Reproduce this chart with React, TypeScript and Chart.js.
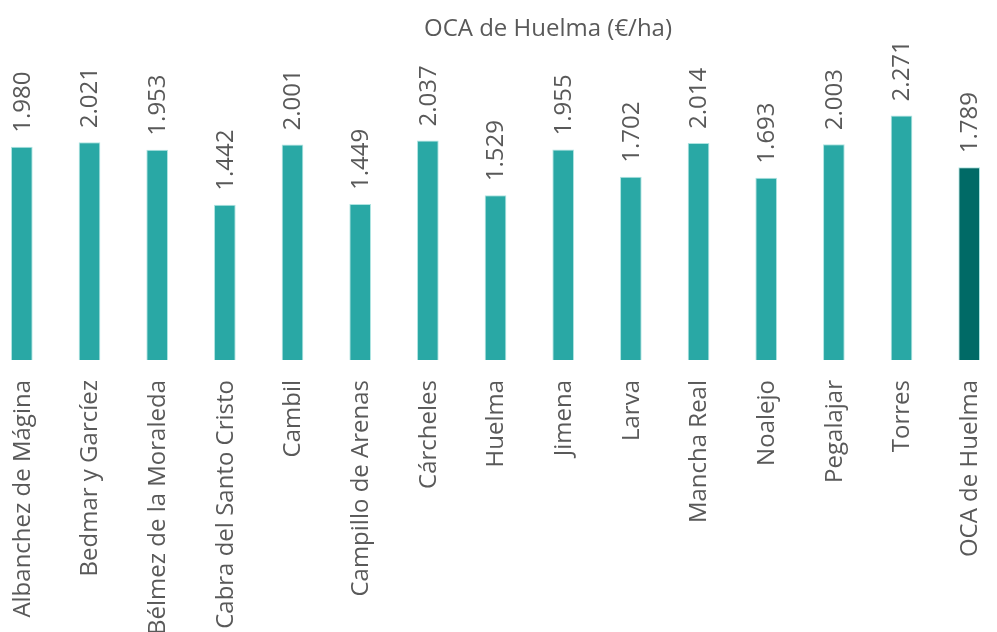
import React, { useEffect, useRef } from "react";
import { Chart, registerables } from "chart.js";

Chart.register(...registerables);

const TITLE = "OCA de Huelma (€/ha)";
const categories = [
  "Albanchez de Mágina",
  "Bedmar y Garcíez",
  "Bélmez de la Moraleda",
  "Cabra del Santo Cristo",
  "Cambil",
  "Campillo de Arenas",
  "Cárcheles",
  "Huelma",
  "Jimena",
  "Larva",
  "Mancha Real",
  "Noalejo",
  "Pegalajar",
  "Torres",
  "OCA de Huelma",
];
const values = [1980, 2021, 1953, 1442, 2001, 1449, 2037, 1529, 1955, 1702, 2014, 1693, 2003, 2271, 1789];
const barColors = [
  "#29A8A5", "#29A8A5", "#29A8A5", "#29A8A5", "#29A8A5",
  "#29A8A5", "#29A8A5", "#29A8A5", "#29A8A5", "#29A8A5",
  "#29A8A5", "#29A8A5", "#29A8A5", "#29A8A5", "#006A66",
];

const TEXT = "#595959";
const FONT = "'Open Sans', sans-serif";

function fmt(v: number): string {
  const th = Math.floor(v / 1000);
  const rest = String(v % 1000).padStart(3, "0");
  return th > 0 ? `${th}.${rest}` : String(v);
}

const valueLabels = {
  id: "valueLabels",
  afterDatasetsDraw(chart: any) {
    const ctx = chart.ctx;
    const meta = chart.getDatasetMeta(0);
    ctx.save();
    ctx.fillStyle = TEXT;
    ctx.font = `24px ${FONT}`;
    ctx.textAlign = "left";
    ctx.textBaseline = "middle";
    meta.data.forEach((el: any, i: number) => {
      ctx.save();
      ctx.translate(el.x + 1, el.y - 14);
      ctx.rotate(-Math.PI / 2);
      ctx.fillText(fmt(values[i]), 0, 0);
      ctx.restore();
    });
    // chart title, offset to the right as in the reference
    ctx.textAlign = "center";
    ctx.textBaseline = "middle";
    ctx.fillText(TITLE, 560, 29);
    ctx.restore();
  },
};

export default function App() {
  const ref = useRef<HTMLCanvasElement>(null);
  useEffect(() => {
    if (!ref.current) return;
    const chart = new Chart(ref.current, {
      type: "bar",
      data: {
        labels: categories,
        datasets: [
          {
            data: values,
            backgroundColor: barColors,
            borderColor: "rgba(120,210,205,0.6)",
            borderWidth: 1,
            barPercentage: 0.32,
            categoryPercentage: 1,
          },
        ],
      },
      options: {
        responsive: false,
        animation: false,
        layout: { padding: { top: 58.4, left: 0, right: 0, bottom: 0 } },
        plugins: {
          legend: { display: false },
          tooltip: { enabled: false },
          title: { display: false },
        },
        scales: {
          x: {
            grid: { display: false, drawTicks: false },
            border: { display: false },
            ticks: {
              color: TEXT,
              font: { family: FONT, size: 24 },
              minRotation: 90,
              maxRotation: 90,
              padding: 20,
              autoSkip: false,
              labelOffset: 1,
            },
            afterFit: (scale: any) => {
              scale.height = 340;
            },
          },
          y: {
            display: false,
            min: 0,
            max: 2800,
          },
        },
      },
      plugins: [valueLabels],
    });
    return () => chart.destroy();
  }, []);
  return (
    <div
      style={{
        position: "fixed",
        left: 0,
        top: 0,
        width: 997,
        height: 632,
        overflow: "hidden",
        background: "#fff",
      }}
    >
      <canvas
        ref={ref}
        width={1030}
        height={700}
        style={{ position: "absolute", left: -12, top: 0, width: 1030, height: 700 }}
      />
    </div>
  );
}
